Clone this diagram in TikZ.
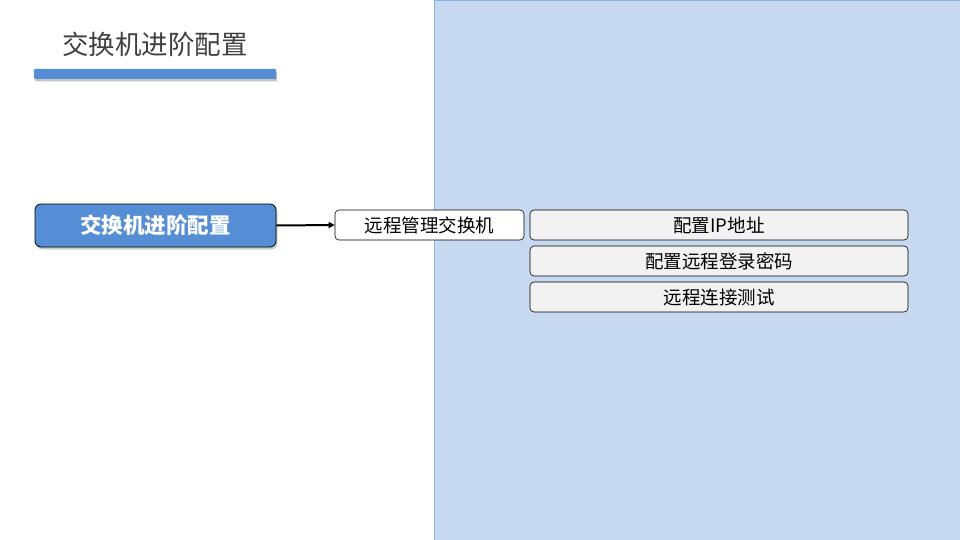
\documentclass[tikz,border=0pt]{standalone}
\usepackage{fontspec}
\setmainfont{Noto Sans CJK SC}
\usetikzlibrary{shadows,arrows.meta}
\definecolor{panelfill}{HTML}{C6D9F0}
\definecolor{panelline}{HTML}{8EB4E3}
\definecolor{mainblue}{HTML}{558ED5}
\definecolor{titlegray}{HTML}{404040}
\definecolor{lightgray}{HTML}{F2F2F2}
\tikzset{
  mainbox/.style={draw=black, line width=0.8pt, fill=mainblue, rounded corners=6pt, minimum width=241pt, minimum height=43pt, text=white, font=\fontsize{21.5}{24}\selectfont\bfseries, drop shadow={shadow xshift=1.5pt, shadow yshift=-2.5pt, opacity=0.4}},
  subbox/.style={draw=black, line width=0.6pt, fill=white, rounded corners=4pt, minimum width=189pt, minimum height=30pt, font=\fontsize{18.5}{20}\selectfont},
  leafbox/.style={draw=black, line width=0.6pt, fill=lightgray, rounded corners=4pt, minimum width=378pt, minimum height=30pt, font=\fontsize{18.5}{20}\selectfont},
}
\begin{document}
\begin{tikzpicture}[x=1pt,y=-1pt]
\useasboundingbox (0,0) rectangle (960,540);
\fill[white] (0,0) rectangle (960,540);
\draw[fill=panelfill, draw=panelline, line width=0.8pt] (434.5,0.5) rectangle (960,540);
\node[text=titlegray, font=\fontsize{26.5}{30}\selectfont, anchor=west, inner sep=0pt] (title) at (62,44) {交换机进阶配置};
\fill[mainblue, rounded corners=1pt, drop shadow={shadow xshift=1pt, shadow yshift=-2.5pt, opacity=0.45}] (34,69) rectangle (276,79);
\node[mainbox] (main) at (155.5,225.5) {交换机进阶配置};
\node[subbox] (remote) at (429.5,225) {远程管理交换机};
\node[leafbox] (ip) at (719,225) {配置IP地址};
\node[leafbox] (pwd) at (719,261) {配置远程登录密码};
\node[leafbox] (test) at (719,297) {远程连接测试};
\draw[line width=2pt, -{Triangle[length=6pt,width=6pt]}] (main.east) -- (remote.west);
\end{tikzpicture}
\end{document}
